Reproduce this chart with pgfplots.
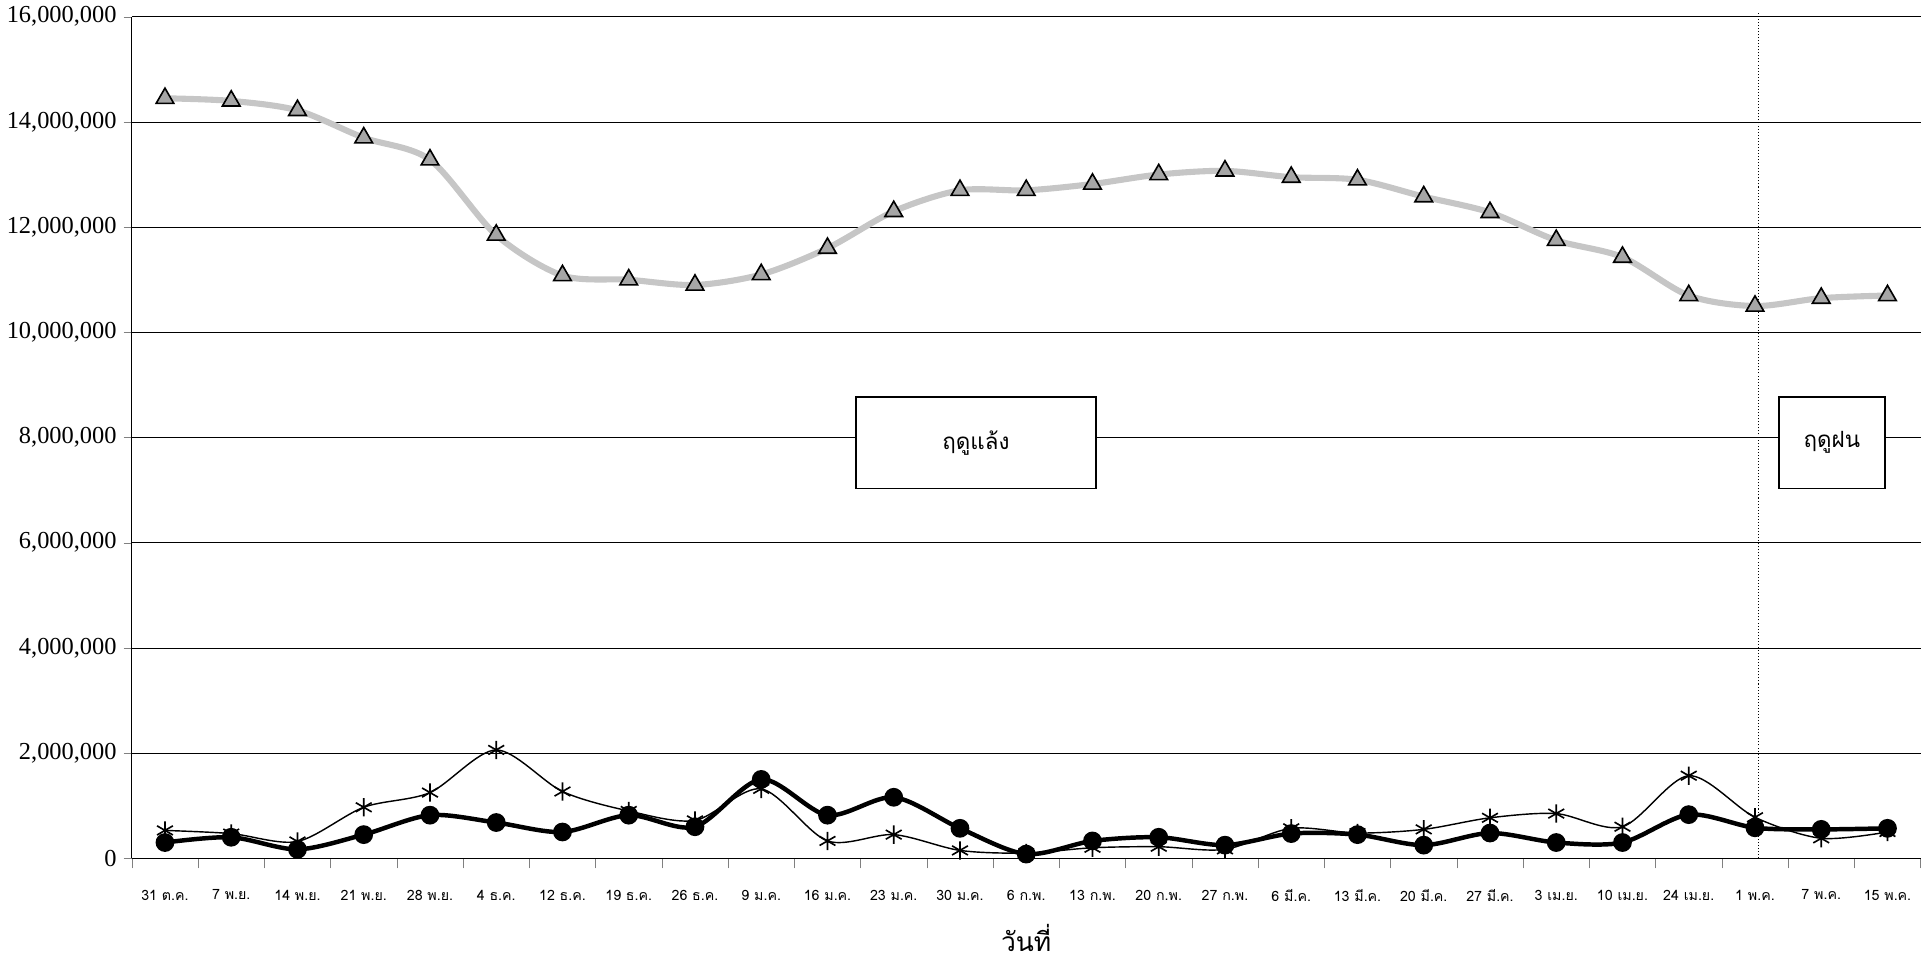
\documentclass[border=0pt]{standalone}
\usepackage{fontspec}
\setmainfont{Liberation Serif}
\newfontfamily\thaifont[Script=Thai]{Loma}
\usepackage{pgfplots}
\pgfplotsset{compat=1.18}
\begin{document}
\begin{tikzpicture}
\begin{axis}[
  scale only axis, width=880pt, height=414pt,
  xmin=-0.5, xmax=26.5, ymin=0, ymax=16000000,
  xtick={0,...,26},
  xticklabels={31 ต.ค.,7 พ.ย.,14 พ.ย.,21 พ.ย.,28 พ.ย.,4 ธ.ค.,12 ธ.ค.,19 ธ.ค.,26 ธ.ค.,9 ม.ค.,16 ม.ค.,23 ม.ค.,30 ม.ค.,6 ก.พ.,13 ก.พ.,20 ก.พ.,27 ก.พ.,6 มี.ค.,13 มี.ค.,20 มี.ค.,27 มี.ค.,3 เม.ย.,10 เม.ย.,24 เม.ย.,1 พ.ค.,7 พ.ค.,15 พ.ค.},
  x tick label style={font=\thaifont\fontsize{7}{8}\selectfont, yshift=-8pt},
  major x tick style={draw=none},
  minor xtick={-0.5,0.5,...,26.5},
  minor tick length=5pt,
  ytick={0,2000000,...,16000000},
  yticklabel style={font=\fontsize{12}{14}\selectfont},
  /pgf/number format/assume math mode=true,
  scaled y ticks=false,
  yticklabel={\pgfmathprintnumber[fixed,1000 sep={,}]{\tick}},
  tick align=outside, major tick length=4pt,
  ymajorgrids, grid style={black, line width=0.4pt},
  axis x line*=bottom, axis y line*=left,
  xlabel={\thaifont วันที่\strut}, xlabel style={font=\thaifont\fontsize{13}{15}\selectfont, yshift=-4pt},
  clip=false,
]
\addplot[gray!45, line width=3pt, smooth, tension=0.5, mark=triangle*, mark size=5pt,
  mark options={fill=gray!70, draw=black, line width=0.8pt}] coordinates {
(0,14450000)(1,14400000)(2,14220000)(3,13700000)(4,13280000)(5,11850000)(6,11080000)(7,11000000)(8,10900000)(9,11100000)(10,11600000)(11,12300000)(12,12700000)(13,12700000)(14,12820000)(15,13000000)(16,13070000)(17,12950000)(18,12900000)(19,12580000)(20,12280000)(21,11750000)(22,11430000)(23,10700000)(24,10500000)(25,10650000)(26,10700000)};
\addplot[black, line width=0.7pt, smooth, tension=0.5, mark=asterisk, mark size=4.5pt,
  mark options={line width=0.8pt}] coordinates {
(0,530000)(1,470000)(2,320000)(3,970000)(4,1250000)(5,2060000)(6,1270000)(7,900000)(8,720000)(9,1320000)(10,330000)(11,450000)(12,150000)(13,100000)(14,200000)(15,220000)(16,170000)(17,570000)(18,480000)(19,550000)(20,770000)(21,850000)(22,600000)(23,1570000)(24,780000)(25,380000)(26,500000)};
\addplot[black, line width=2.2pt, smooth, tension=0.5, mark=*, mark size=3.5pt] coordinates {
(0,300000)(1,400000)(2,170000)(3,450000)(4,820000)(5,680000)(6,500000)(7,820000)(8,600000)(9,1500000)(10,820000)(11,1160000)(12,570000)(13,80000)(14,330000)(15,400000)(16,250000)(17,470000)(18,450000)(19,250000)(20,480000)(21,300000)(22,300000)(23,830000)(24,580000)(25,550000)(26,570000)};
\draw[densely dotted, line width=0.5pt] (axis cs:24.05,0) -- (axis cs:24.05,16100000);
\node[draw=black, line width=0.8pt, fill=white, minimum width=118pt, minimum height=45pt, font=\thaifont\fontsize{11}{13}\selectfont] at (axis cs:12.24,7900000) {ฤดูแล้ง};
\node[draw=black, line width=0.8pt, fill=white, minimum width=52pt, minimum height=45pt, font=\thaifont\fontsize{11}{13}\selectfont] at (axis cs:25.16,7900000) {ฤดูฝน};
\end{axis}
\end{tikzpicture}
\end{document}
